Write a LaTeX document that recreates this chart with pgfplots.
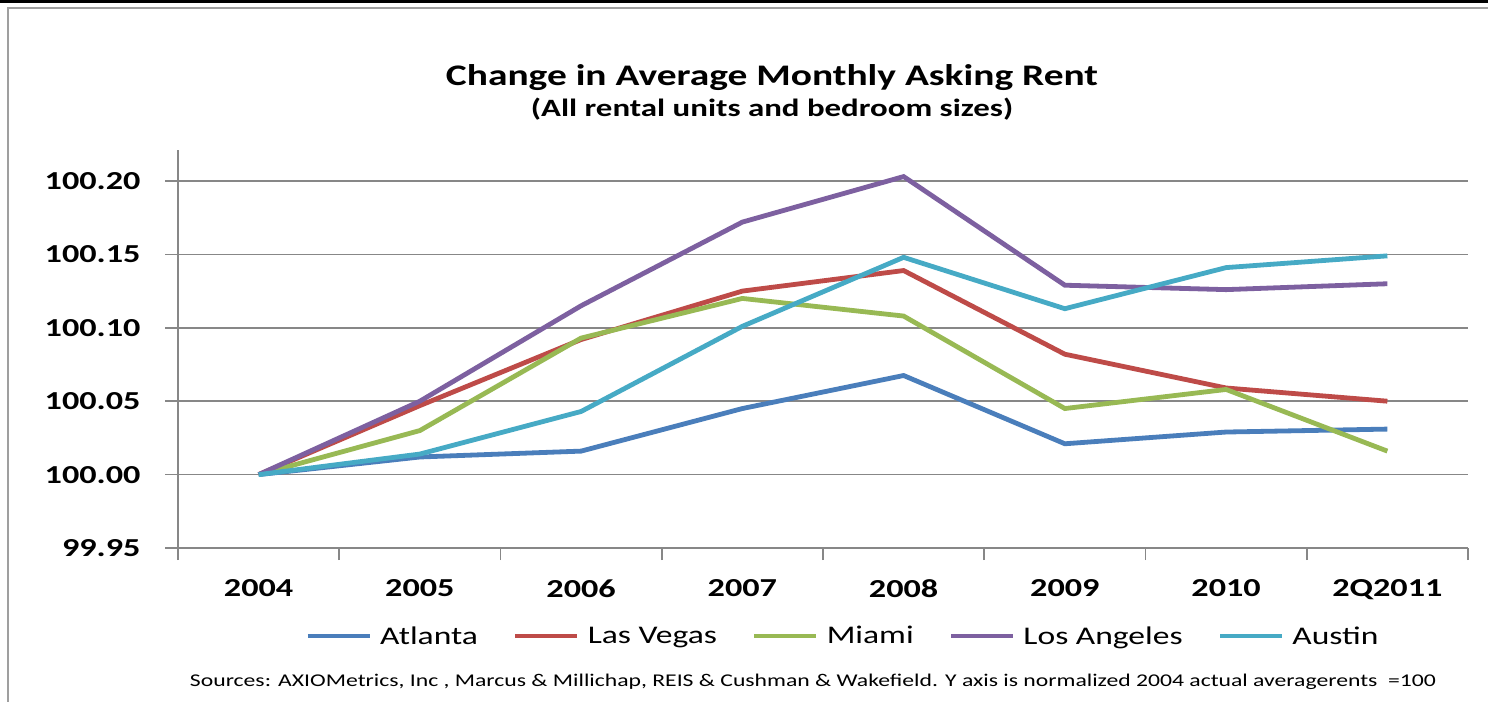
\documentclass[border=0pt]{standalone}
\usepackage{fontspec}
\setmainfont{Carlito}[FakeStretch=1.32]
\usepackage{pgfplots}
\pgfplotsset{compat=1.18}
\definecolor{cAtl}{HTML}{4A7EBB}
\definecolor{cLV}{HTML}{BE4B48}
\definecolor{cMia}{HTML}{98B954}
\definecolor{cLA}{HTML}{7D60A0}
\definecolor{cAus}{HTML}{46AAC5}
\definecolor{gridc}{HTML}{878787}
\begin{document}
\begin{tikzpicture}[x=1bp,y=1bp]
\useasboundingbox (0,0) rectangle (1488,-702);
\fill[white] (0,0) rectangle (1488,-702);
\draw[black, line width=3bp] (0,-1.5) -- (1488,-1.5);
\draw[gridc!80, line width=2bp] (8,-702) -- (8,-8) -- (1488,-8);
\node[anchor=base, font=\bfseries\fontsize{30}{33}\selectfont] at (772,-86) {Change in Average Monthly Asking Rent};
\node[anchor=base, font=\bfseries\fontsize{25}{28}\selectfont] at (772,-117) {(All rental units and bedroom sizes)};
\begin{axis}[
  at={(178bp,-548bp)}, anchor=south west,
  scale only axis, width=1290bp, height=398bp,
  xmin=-0.5, xmax=7.5, ymin=99.95, ymax=100.2211,
  axis x line*=bottom, axis y line*=left,
  axis line style={gridc, line width=1.6bp, -},
  xtick={0,...,7},
  xticklabels={2004,2005,2006,2007,2008,2009,2010,2Q2011},
  major x tick style={draw=none},
  minor xtick={-0.5,0.5,...,7.5},
  minor x tick style={gridc, line width=1.6bp},
  minor tick length=12bp,
  ytick={99.95,100,100.05,100.10,100.15,100.20},
  major tick length=13bp,
  tick align=outside,
  y tick style={gridc, line width=1.6bp},
  ymajorgrids, grid style={gridc, line width=1.6bp},
  /pgf/number format/assume math mode=true,
  y tick label style={xshift=-21bp, /pgf/number format/.cd, fixed, fixed zerofill, precision=2},
  x tick label style={yshift=-15bp},
  ticklabel style={font=\bfseries\fontsize{26}{28}\selectfont},
  legend columns=5,
  legend style={at={(0.5155,-0.221)}, anchor=center, draw=none, fill=none,
    font=\fontsize{25.5}{28}\selectfont,
    /tikz/every even column/.append style={column sep=33bp},
    /tikz/every odd column/.append style={column sep=6bp}},
  legend image code/.code={\draw[#1, line width=4.8bp] (0bp,0bp) -- (62bp,0bp);},
  every axis plot/.append style={line width=4.8bp},
]
\addplot[cAtl] coordinates {(0,100.000) (1,100.012) (2,100.016) (3,100.045) (4,100.0675) (5,100.021) (6,100.029) (7,100.031)};
\addlegendentry{Atlanta}
\addplot[cLV] coordinates {(0,100.000) (1,100.047) (2,100.092) (3,100.125) (4,100.139) (5,100.082) (6,100.059) (7,100.050)};
\addlegendentry{Las Vegas}
\addplot[cMia] coordinates {(0,100.000) (1,100.030) (2,100.093) (3,100.120) (4,100.108) (5,100.045) (6,100.058) (7,100.016)};
\addlegendentry{Miami}
\addplot[cLA] coordinates {(0,100.000) (1,100.050) (2,100.115) (3,100.172) (4,100.203) (5,100.129) (6,100.126) (7,100.130)};
\addlegendentry{Los Angeles}
\addplot[cAus] coordinates {(0,100.000) (1,100.014) (2,100.043) (3,100.101) (4,100.148) (5,100.113) (6,100.141) (7,100.149)};
\addlegendentry{Austin}
\end{axis}
\node[anchor=base, font=\fontsize{18}{20}\selectfont] at (813,-686) {Sources: AXIOMetrics, Inc , Marcus \& Millichap, REIS \& Cushman \& Wakefield. Y axis is normalized 2004 actual averagerents \ =100};
\end{tikzpicture}
\end{document}
